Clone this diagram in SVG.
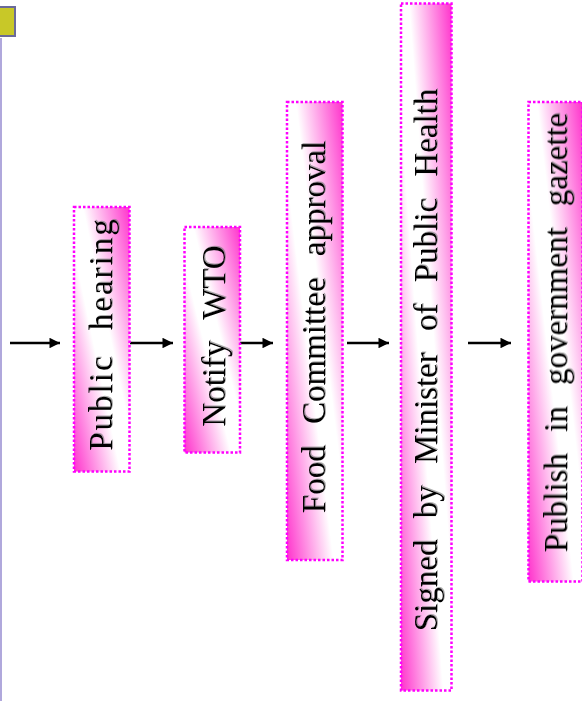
<svg xmlns="http://www.w3.org/2000/svg" width="582" height="701" viewBox="0 0 582 701">
<defs>
<linearGradient id="pg" x1="0" y1="1" x2="1" y2="0">
<stop offset="0" stop-color="#ff33cc"/>
<stop offset="0.42" stop-color="#ffffff"/>
<stop offset="0.58" stop-color="#ffffff"/>
<stop offset="1" stop-color="#ff33cc"/>
</linearGradient>
<marker id="ah" viewBox="0 0 10 10" refX="10" refY="5" markerWidth="4.4" markerHeight="4.2" orient="auto" markerUnits="strokeWidth">
<path d="M0,0 L10,5 L0,10 Z" fill="#000"/>
</marker>
<filter id="sh" x="-5%" y="-5%" width="110%" height="110%">
<feDropShadow dx="1" dy="1" stdDeviation="0.4" flood-color="#777" flood-opacity="0.6"/>
</filter>
</defs>
<style>
.box{fill:url(#pg);stroke:#ff00ff;stroke-width:2.5;stroke-dasharray:2.5 2}
.lbl{font-family:"Liberation Serif","Times New Roman",serif;font-size:33px;fill:#000;text-anchor:middle;word-spacing:13px;filter:url(#sh)}
.arr{stroke:#000;stroke-width:2.5;fill:none;marker-end:url(#ah)}
</style>
<rect x="0" y="0" width="582" height="701" fill="#ffffff"/>
<line x1="1" y1="38" x2="1" y2="701" stroke="#b0a8dc" stroke-width="2"/>
<rect x="-2" y="7" width="17" height="29" fill="#c8c828" stroke="#6a6a9a" stroke-width="2"/>
<g id="connectors">
<line class="arr" x1="10" y1="343" x2="60" y2="343"/>
<line class="arr" x1="130" y1="343" x2="173" y2="343"/>
<line class="arr" x1="240" y1="343" x2="273" y2="343"/>
<line class="arr" x1="347" y1="343" x2="389" y2="343"/>
<line class="arr" x1="468" y1="343" x2="511" y2="343"/>
</g>
<g id="n1">
<rect class="box" x="74" y="207" width="55.5" height="264.5"/>
<text class="lbl" style="letter-spacing:2px;word-spacing:14px" transform="translate(112,334) rotate(-90)">Public hearing</text>
</g>
<g id="n2">
<rect class="box" x="184.5" y="227" width="55.5" height="225.5"/>
<text class="lbl" transform="translate(225,336) rotate(-90)">Notify WTO</text>
</g>
<g id="n3">
<rect class="box" x="287" y="102" width="55.5" height="458"/>
<text class="lbl" transform="translate(325,327) rotate(-90)">Food Committee approval</text>
</g>
<g id="n4">
<rect class="box" x="401" y="3.5" width="50.5" height="687"/>
<text class="lbl" transform="translate(437,360) rotate(-90)">Signed by Minister of Public Health</text>
</g>
<g id="n5">
<rect class="box" x="528.5" y="102" width="54" height="479.5"/>
<text class="lbl" transform="translate(567,332.5) rotate(-90)">Publish in government gazette</text>
</g>
</svg>
